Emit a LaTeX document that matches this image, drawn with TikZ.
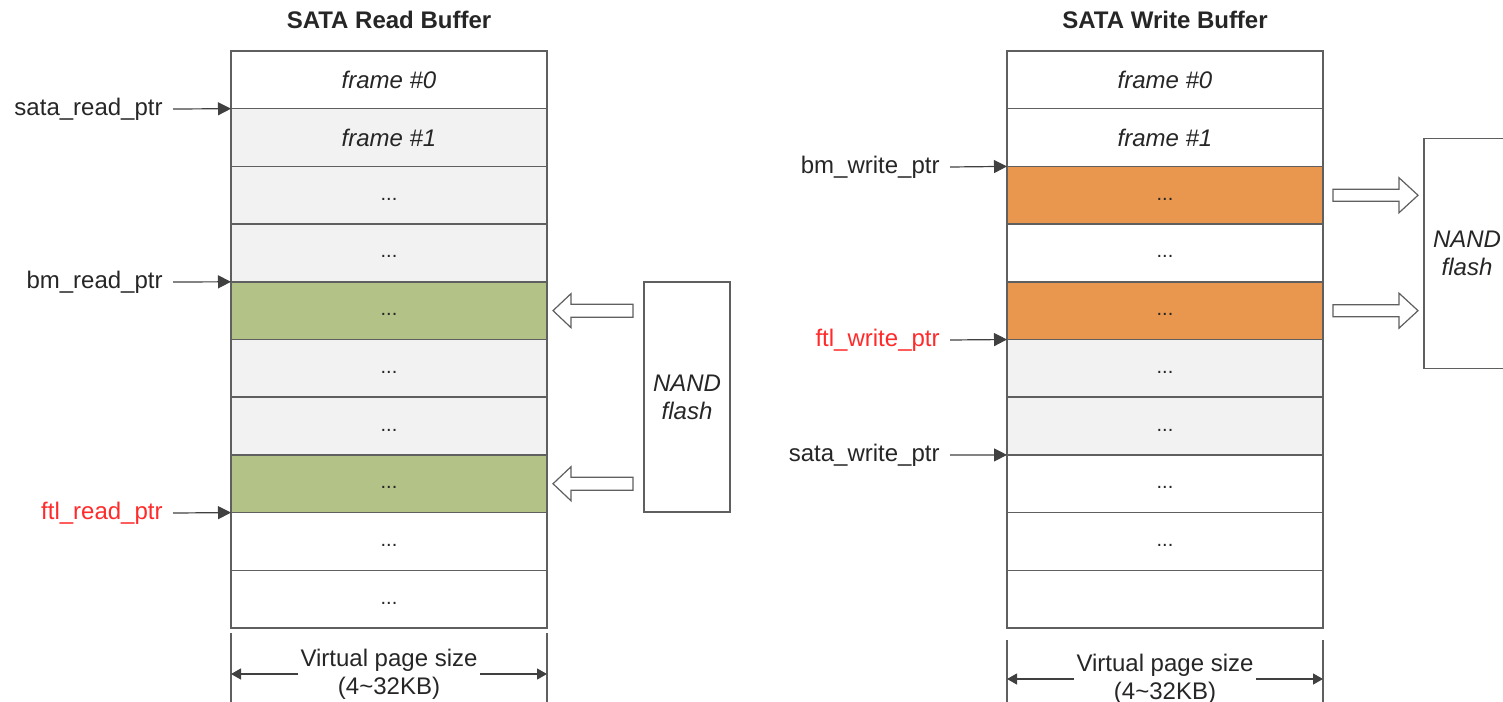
\documentclass[tikz,border=0pt]{standalone}
\usepackage{fontspec}
\setmainfont{Liberation Sans}
\usetikzlibrary{arrows.meta,calc}
\definecolor{edgegray}{HTML}{5F5F5F}
\definecolor{cellgray}{HTML}{F2F2F2}
\definecolor{cellgreen}{HTML}{B3C286}
\definecolor{cellorange}{HTML}{E9964F}
\definecolor{ptrred}{HTML}{FF2A2A}
\definecolor{inkgray}{HTML}{404040}
\begin{document}
\begin{tikzpicture}[x=0.5pt,y=-0.5pt,
  every node/.style={font=\fontsize{12}{14}\selectfont, text=black!85},
  cell/.style={draw=edgegray, line width=0.8pt, minimum width=158pt, minimum height=28.85pt, inner sep=0pt, outer sep=0pt},
  frm/.style={font=\fontsize{12}{14}\selectfont\itshape},
  dots/.style={font=\fontsize{10}{12}\selectfont, text height=0.7em, text depth=0.2em},
  ptrlabel/.style={anchor=east, inner xsep=5pt, inner ysep=0pt, text height=0.9em, text depth=0.25em},
  ptrarrow/.style={-{Triangle[length=6.5pt,width=6.5pt]}, draw=inkgray, line width=0.6pt},
  nand/.style={draw=edgegray, line width=0.8pt, minimum width=43pt, minimum height=115pt, align=center, font=\fontsize{12}{14}\selectfont\itshape, inner sep=0pt},
  blockarrow/.style={draw=edgegray, fill=white, line width=0.6pt, line join=miter},
  title/.style={font=\fontsize{12}{14}\selectfont\bfseries},
  dimtext/.style={align=center, inner xsep=1pt, inner ysep=0pt},
  dimarrow/.style={-{Triangle[length=5pt,width=5.5pt]}, draw=inkgray, line width=0.6pt},
  guide/.style={draw=edgegray, line width=0.6pt}
]
\useasboundingbox (0,0) rectangle (1503,701);
\clip (0,0) rectangle (1503,701);

% ---------------- SATA read buffer ----------------
\node[title] (T1) at (389,20) {SATA Read Buffer};
\node[cell, fill=white, frm] (L0) at (389,79.85) {frame \#0};
\node[cell, fill=cellgray, frm] (L1) at (389,137.55) {frame \#1};
\foreach \i/\c in {2/cellgray,3/cellgray,4/cellgreen,5/cellgray,6/cellgray,7/cellgreen,8/white,9/white}
  \node[cell, fill=\c, dots] (L\i) at (389,{79.85+57.7*\i}) {...};

\node[ptrlabel] (srp) at (173,109) {sata\_read\_ptr};
\node[ptrlabel] (brp) at (173,282) {bm\_read\_ptr};
\node[ptrlabel, text=ptrred] (frp) at (173,513) {ftl\_read\_ptr};
\draw[ptrarrow] (srp.east) -- (L1.north west);
\draw[ptrarrow] (brp.east) -- (L4.north west);
\draw[ptrarrow] (frp.east) -- (L8.north west);

\node[nand] (N1) at (687,397) {NAND\\flash};
\path (L4.east) ++(6,0) coordinate (a1);
\path (L7.east) ++(6,0) coordinate (a2);
\foreach \p in {a1,a2}
  \draw[blockarrow] (\p) -- ++(18,-17) -- ++(0,10.5) -- ++(62,0) -- ++(0,13)
    -- ++(-62,0) -- ++(0,10.5) -- cycle;

\draw[guide] ([yshift=-2.5pt]L9.south west) -- ++(0,80);
\draw[guide] ([yshift=-2.5pt]L9.south east) -- ++(0,80);
\node[dimtext] (D1) at (389,674) {Virtual page size\\(4\textasciitilde 32KB)};
\draw[dimarrow] (D1.west) -- (D1.west -| L9.west);
\draw[dimarrow] (D1.east) -- (D1.east -| L9.east);

% ---------------- SATA write buffer ----------------
\node[title] (T2) at (1165,20) {SATA Write Buffer};
\node[cell, fill=white, frm] (R0) at (1165,79.85) {frame \#0};
\node[cell, fill=white, frm] (R1) at (1165,137.55) {frame \#1};
\foreach \i/\c in {2/cellorange,3/white,4/cellorange,5/cellgray,6/cellgray,7/white,8/white}
  \node[cell, fill=\c, dots] (R\i) at (1165,{79.85+57.7*\i}) {...};
\node[cell, fill=white] (R9) at (1165,{79.85+57.7*9}) {};

\node[ptrlabel] (bwp) at (950,167) {bm\_write\_ptr};
\node[ptrlabel, text=ptrred] (fwp) at (950,340) {ftl\_write\_ptr};
\node[ptrlabel] (swp) at (950,455) {sata\_write\_ptr};
\draw[ptrarrow] (bwp.east) -- (R2.north west);
\draw[ptrarrow] (fwp.east) -- (R5.north west);
\draw[ptrarrow] (swp.east) -- (R7.north west);

\node[nand] (N2) at (1467,253.5) {NAND\\flash};
\path (R2.east) ++(10,0) coordinate (b1);
\path (R4.east) ++(10,0) coordinate (b2);
\foreach \p in {b1,b2}
  \draw[blockarrow] (\p) ++(0,-6) -- ++(66,0) -- ++(0,-11.5) -- ++(19,17.5)
    -- ++(-19,17.5) -- ++(0,-11.5) -- ++(-66,0) -- cycle;

\draw[guide] ([yshift=-6pt]R9.south west) -- ++(0,80);
\draw[guide] ([yshift=-6pt]R9.south east) -- ++(0,80);
\node[dimtext] (D2) at (1165,679) {Virtual page size\\(4\textasciitilde 32KB)};
\draw[dimarrow] (D2.west) -- (D2.west -| R9.west);
\draw[dimarrow] (D2.east) -- (D2.east -| R9.east);
\end{tikzpicture}
\end{document}
